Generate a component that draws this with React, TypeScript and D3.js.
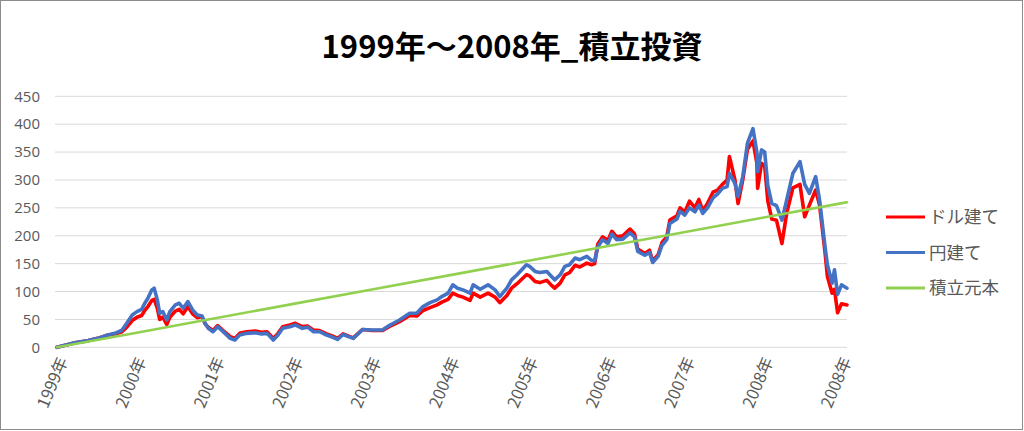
import React from "react";
import * as d3 from "d3";

// x positions: years elapsed since start of 1999 (category axis position)
const dates = [
  0.0, 0.23, 0.4, 0.52, 0.65, 0.74, 0.83, 0.89, 0.96, 1.02, 1.08, 1.12, 1.16, 1.21, 1.24, 1.28, 1.31, 1.35, 1.4, 1.44,
  1.51, 1.56, 1.61, 1.67, 1.73, 1.79, 1.85, 1.89, 1.93, 1.99, 2.05, 2.12, 2.21, 2.27, 2.33, 2.42, 2.53, 2.61, 2.68, 2.76,
  2.82, 2.88, 2.97, 3.04, 3.13, 3.2, 3.27, 3.35, 3.44, 3.52, 3.58, 3.65, 3.78, 3.9, 4.02, 4.15, 4.25, 4.37, 4.5, 4.59,
  4.67, 4.76, 4.85, 4.91, 4.99, 5.05, 5.11, 5.18, 5.27, 5.31, 5.4, 5.5, 5.59, 5.65, 5.74, 5.8, 5.87, 5.93, 5.99, 6.03,
  6.1, 6.16, 6.25, 6.31, 6.35, 6.42, 6.48, 6.54, 6.61, 6.67, 6.76, 6.82, 6.86, 6.9, 6.96, 7.03, 7.08, 7.14, 7.22, 7.31,
  7.37, 7.41, 7.5, 7.56, 7.6, 7.67, 7.72, 7.78, 7.82, 7.91, 7.95, 8.01, 8.07, 8.14, 8.19, 8.24, 8.3, 8.37, 8.43, 8.49,
  8.55, 8.58, 8.65, 8.69, 8.75, 8.81, 8.88, 8.93, 8.94, 8.99, 9.03, 9.07, 9.12, 9.18, 9.25, 9.31, 9.39, 9.48, 9.54, 9.6,
  9.68, 9.73, 9.8, 9.83, 9.89, 9.92, 9.96, 10.01, 10.08,
];

// ドル建て (red)
const dollarValues = [
  0, 8, 12, 16, 22, 24, 28, 36, 48, 54, 57, 66, 73, 84, 86, 70, 50, 54, 41, 54,
  65, 68, 60, 73, 60, 53, 55, 42, 36, 30, 39, 30, 19, 16, 25, 28, 29, 27, 28, 16,
  25, 37, 40, 43, 37, 38, 31, 30, 24, 20, 16, 24, 17, 32, 30, 30, 38, 46, 57, 56,
  66, 71, 76, 81, 86, 97, 93, 90, 84, 97, 90, 97, 90, 80, 93, 106, 114, 122, 130, 128,
  118, 116, 120, 111, 106, 115, 130, 134, 147, 144, 151, 148, 150, 185, 198, 192, 208, 198, 200, 212,
  203, 176, 168, 174, 155, 166, 188, 198, 228, 236, 250, 242, 262, 250, 265, 245, 258, 278, 282, 292,
  300, 342, 300, 258, 300, 355, 370, 330, 285, 330, 325, 262, 230, 228, 186, 240, 286, 292, 234, 255,
  282, 255, 170, 127, 97, 104, 62, 78, 76,
];

// 円建て (blue)
const yenValues = [
  0, 8, 12, 16, 22, 25, 31, 43, 58, 64, 68, 79, 88, 103, 106, 85, 61, 64, 49, 64,
  76, 79, 70, 82, 67, 58, 56, 43, 34, 28, 37, 28, 16, 13, 22, 25, 26, 24, 25, 13,
  22, 34, 37, 40, 34, 36, 28, 28, 22, 18, 14, 23, 16, 32, 31, 31, 40, 49, 61, 61,
  73, 80, 85, 91, 97, 112, 106, 103, 97, 112, 104, 112, 103, 91, 106, 121, 130, 139, 148, 145,
  136, 134, 136, 127, 121, 130, 145, 148, 160, 157, 163, 156, 155, 180, 193, 186, 203, 193, 194, 205,
  198, 172, 165, 170, 152, 163, 183, 193, 222, 230, 244, 237, 250, 243, 255, 240, 250, 268, 275, 285,
  288, 312, 294, 270, 306, 366, 392, 350, 315, 354, 350, 290, 258, 254, 228, 264, 312, 333, 292, 276,
  306, 264, 180, 148, 115, 139, 95, 112, 106,
];

// 積立元本 (green)
const principalDates = [0, 1, 2, 3, 4, 5, 6, 7, 8, 9, 10, 10.08];
const principalValues = [0, 25.8, 51.6, 77.4, 103.2, 129, 154.8, 180.6, 206.4, 232.2, 258, 260];

const xTickLabels = ["1999年", "2000年", "2001年", "2002年", "2003年", "2004年", "2005年", "2006年", "2007年", "2008年", "2008年"];
const yTicks = [0, 50, 100, 150, 200, 250, 300, 350, 400, 450];

const seriesNames = ["ドル建て", "円建て", "積立元本"];
const seriesColors = ["#FF0000", "#4472C4", "#92D050"];

const title = "1999年～2008年_積立投資";

export default function App() {
  const W = 1024;
  const H = 431;
  const x = d3.scaleLinear().domain([0, 10.08]).range([57, 847]);
  const y = d3.scaleLinear().domain([0, 450]).range([347.3, 96.3]);

  const line = d3
    .line<[number, number]>()
    .x((d) => x(d[0]))
    .y((d) => y(d[1]));

  const dollarPts = dates.map((t, i) => [t, dollarValues[i]] as [number, number]);
  const yenPts = dates.map((t, i) => [t, yenValues[i]] as [number, number]);
  const prinPts = principalDates.map((t, i) => [t, principalValues[i]] as [number, number]);

  const paths = [dollarPts, yenPts, prinPts];
  const widths = [3.6, 3.6, 2.6];

  const labelFont = "'Segoe UI', 'Open Sans', 'Noto Sans CJK JP', sans-serif";
  const cjkFont = "'Noto Sans CJK JP', sans-serif";

  return (
    <svg
      width={W}
      height={H}
      style={{ position: "absolute", left: 0, top: 0, background: "#fff" }}
    >
      <rect x={0.5} y={0.5} width={1022} height={429} fill="#fff" stroke="#8c8c8c" strokeWidth={1} />
      <text
        x={512}
        y={58}
        textAnchor="middle"
        fontFamily={cjkFont}
        fontWeight="bold"
        fontSize={31}
        fill="#000"
      >
        {title}
      </text>
      {yTicks.map((v) => (
        <g key={v}>
          <line x1={55} x2={847} y1={y(v)} y2={y(v)} stroke="#D9D9D9" strokeWidth={1} />
          <text
            x={40}
            y={y(v)}
            dy="0.35em"
            textAnchor="end"
            fontFamily={labelFont}
            fontSize={15}
            fill="#595959"
          >
            {v}
          </text>
        </g>
      ))}
      {xTickLabels.map((lab, i) => (
        <text
          key={i}
          transform={`translate(${x(i) + 6},${358}) rotate(-67)`}
          textAnchor="end"
          dy="0.35em"
          fontFamily={cjkFont}
          fontSize={16.5}
          fill="#595959"
        >
          {lab}
        </text>
      ))}
      {paths.map((p, i) => (
        <path
          key={i}
          d={line(p) || ""}
          fill="none"
          stroke={seriesColors[i]}
          strokeWidth={widths[i]}
          strokeLinejoin="round"
          strokeLinecap="round"
        />
      ))}
      {seriesNames.map((name, i) => (
        <g key={name} transform={`translate(0,${217 + i * 35.5})`}>
          <line x1={886} x2={925} y1={0} y2={0} stroke={seriesColors[i]} strokeWidth={3} />
          <text x={929} y={0} dy="0.35em" fontFamily={cjkFont} fontSize={17.5} fill="#595959">
            {name}
          </text>
        </g>
      ))}
    </svg>
  );
}
